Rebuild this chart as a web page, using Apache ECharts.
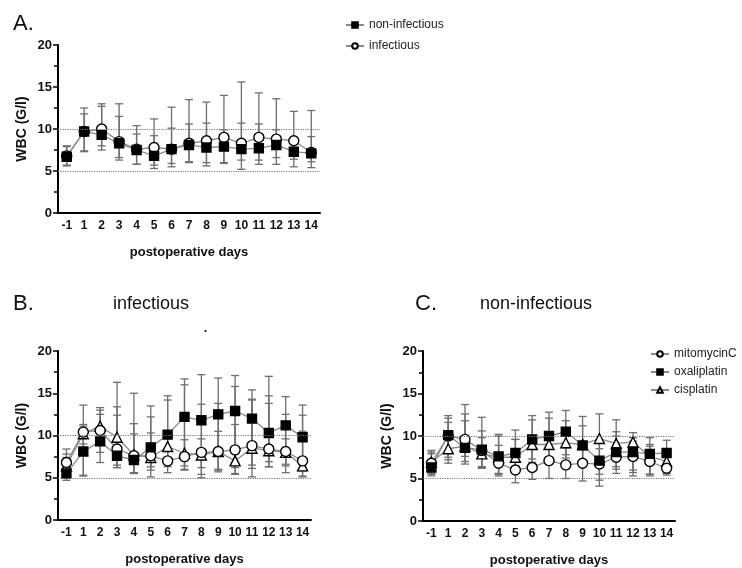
<!DOCTYPE html>
<html>
<head>
<meta charset="utf-8">
<script src="https://cdn.jsdelivr.net/npm/echarts@6/dist/echarts.min.js"></script>
<style>
  html, body { margin: 0; padding: 0; background: #fff; }
  #chart { width: 742px; height: 568px; }
</style>
</head>
<body>
<div id="chart"></div>
<script>
const days = ['-1', '1', '2', '3', '4', '5', '6', '7', '8', '9', '10', '11', '12', '13', '14']
const yTicks = [0, 5, 10, 15, 20]

// A. all patients
const aNonInf = [6.7, 9.7, 9.3, 8.3, 7.5, 6.8, 7.6, 8.1, 7.8, 7.9, 7.6, 7.7, 8.1, 7.3, 7.1]
const aNonInfHi = [7.9, 11.8, 12.7, 11.5, 9.4, 9.2, 10.1, 10.6, 10.7, 9.9, 10.7, 10.6, 9.9, 9.0, 9.1]
const aNonInfLo = [5.6, 7.3, 7.5, 6.3, 5.8, 5.3, 5.5, 6.0, 5.6, 5.9, 5.2, 5.8, 5.8, 5.5, 5.4]
const aInf = [6.8, 9.7, 10.0, 8.5, 7.6, 7.8, 7.6, 8.3, 8.6, 9.0, 8.3, 9.0, 8.8, 8.6, 7.2]
const aInfHi = [8.0, 12.5, 13.0, 13.0, 10.4, 11.2, 12.6, 13.5, 13.2, 14.0, 15.6, 14.3, 13.6, 12.1, 12.2]
const aInfLo = [5.7, 7.4, 8.0, 6.6, 5.8, 5.7, 5.9, 6.1, 6.0, 6.0, 6.3, 6.3, 6.6, 6.4, 6.1]

// B. infectious
const bMito = [6.8, 10.4, 10.6, 8.4, 7.6, 7.6, 7.0, 7.5, 8.0, 8.1, 8.3, 8.8, 8.4, 8.1, 7.0]
const bMitoHi = [8.4, 13.6, 13.3, 13.4, 11.4, 13.5, 14.2, 16.0, 13.7, 13.8, 15.8, 14.2, 17.0, 12.5, 12.4]
const bMitoLo = [5.0, 5.3, 8.0, 6.5, 5.6, 6.3, 6.3, 5.9, 5.0, 5.9, 6.2, 5.1, 6.3, 5.6, 5.1]
const bOxa = [5.5, 8.1, 9.3, 7.6, 7.1, 8.6, 10.1, 12.2, 11.8, 12.5, 12.9, 12.0, 10.3, 11.2, 9.8]
const bOxaHi = [7.4, 11.1, 12.5, 12.4, 10.2, 12.2, 14.7, 16.7, 17.2, 16.8, 17.1, 15.4, 14.7, 14.6, 13.6]
const bOxaLo = [4.7, 5.2, 6.8, 6.2, 5.5, 5.1, 5.6, 6.0, 5.4, 5.7, 5.4, 6.5, 6.3, 6.6, 5.8]
const bCis = [6.4, 10.2, 11.1, 9.8, 7.7, 7.4, 8.7, 7.9, 7.7, 8.1, 7.0, 8.5, 8.2, 8.0, 6.4]
const bCisHi = [7.8, 11.3, 13.0, 16.3, 15.0, 10.3, 10.2, 9.5, 9.6, 10.5, 11.3, 14.3, 13.8, 9.6, 10.5]
const bCisLo = [5.2, 9.0, 9.3, 6.2, 5.6, 5.9, 7.1, 6.4, 6.2, 6.0, 5.5, 6.1, 6.9, 6.4, 5.2]

// C. non-infectious
const cMito = [6.8, 10.0, 9.6, 8.3, 6.8, 6.0, 6.3, 7.1, 6.6, 6.8, 6.7, 7.5, 7.6, 7.0, 6.2]
const cMitoHi = [8.3, 12.1, 13.7, 12.2, 8.9, 9.6, 9.0, 9.5, 8.6, 9.0, 9.2, 10.5, 9.4, 8.8, 7.5]
const cMitoLo = [5.3, 7.5, 7.6, 6.3, 5.3, 4.5, 4.9, 5.0, 5.0, 4.7, 4.8, 5.6, 5.7, 5.3, 5.4]
const cOxa = [6.3, 10.1, 8.6, 8.4, 7.6, 8.0, 9.6, 10.0, 10.5, 8.9, 7.1, 8.1, 8.1, 7.9, 8.0]
const cOxaHi = [7.9, 12.4, 11.8, 10.6, 10.2, 10.7, 12.4, 12.8, 13.0, 11.2, 8.5, 10.0, 9.8, 9.8, 9.5]
const cOxaLo = [5.5, 7.2, 6.7, 6.2, 5.6, 6.5, 6.9, 7.2, 7.8, 6.4, 5.5, 6.1, 5.3, 5.5, 5.6]
const cCis = [6.9, 8.5, 8.8, 7.9, 7.5, 7.5, 9.0, 9.0, 9.2, 9.0, 9.7, 9.1, 9.3, 7.6, 7.0]
const cCisHi = [8.1, 11.6, 12.6, 9.8, 10.0, 9.6, 11.9, 12.1, 11.8, 12.3, 12.6, 11.9, 10.4, 9.0, 8.5]
const cCisLo = [5.6, 6.8, 7.0, 6.4, 5.5, 6.3, 7.3, 6.8, 7.4, 6.8, 4.1, 6.4, 6.0, 5.5, 5.8]

const font = 'Arial, "Liberation Sans", sans-serif'
const lineGray = '#8a8a8a'
const barGray = '#6f6f6f'

const chart = echarts.init(document.getElementById('chart'))

// error bar: vertical line with caps
const errBar = (gridIdx, lo, hi) => ({
  type: 'custom',
  xAxisIndex: gridIdx,
  yAxisIndex: gridIdx,
  silent: true,
  z: 1,
  data: days.map((d, i) => [i, lo[i], hi[i]]),
  encode: { x: 0, y: [1, 2] },
  renderItem: (params, api) => {
    const x = api.value(0)
    const pLo = api.coord([x, api.value(1)])
    const pHi = api.coord([x, api.value(2)])
    const w = 4
    const st = { stroke: barGray, lineWidth: 1.3 }
    return {
      type: 'group',
      children: [
        { type: 'line', shape: { x1: pHi[0], y1: pHi[1], x2: pLo[0], y2: pLo[1] }, style: st },
        { type: 'line', shape: { x1: pHi[0] - w, y1: pHi[1], x2: pHi[0] + w, y2: pHi[1] }, style: st },
        { type: 'line', shape: { x1: pLo[0] - w, y1: pLo[1], x2: pLo[0] + w, y2: pLo[1] }, style: st }
      ]
    }
  }
})

const markSymbols = {
  circle: { symbol: 'circle', color: '#fff' },
  square: { symbol: 'rect', color: '#000' },
  triangle: { symbol: 'triangle', color: '#fff' }
}

const lineSeries = (gridIdx, name, data, kind, size, withRef) => {
  const s = {
    type: 'line',
    name: name,
    xAxisIndex: gridIdx,
    yAxisIndex: gridIdx,
    data: data,
    symbol: markSymbols[kind].symbol,
    symbolSize: size,
    showAllSymbol: true,
    z: 3,
    lineStyle: { color: lineGray, width: 1.3 },
    itemStyle: { color: markSymbols[kind].color, borderColor: '#000', borderWidth: 1.4 }
  }
  if (withRef) {
    s.markLine = {
      silent: true,
      symbol: 'none',
      label: { show: false },
      lineStyle: { color: '#777', type: 'dotted', width: 1.2 },
      data: [{ yAxis: 5 }, { yAxis: 10 }]
    }
  }
  return s
}

const grids = [
  { left: 58, top: 45, width: 262, height: 168 },
  { left: 58, top: 351, width: 253, height: 169 },
  { left: 423, top: 351, width: 252, height: 170 }
]

const xAxes = grids.map((g, i) => ({
  type: 'category',
  gridIndex: i,
  data: days,
  name: 'postoperative days',
  nameLocation: 'middle',
  nameGap: 33,
  nameTextStyle: { fontFamily: font, fontWeight: 'bold', fontSize: 13, color: '#111' },
  axisLine: { lineStyle: { color: '#000', width: 2 } },
  axisTick: { alignWithLabel: true, length: 5, lineStyle: { color: '#000', width: 1.5 } },
  axisLabel: { interval: 0, margin: 7, fontFamily: font, fontWeight: 'bold', fontSize: 12, color: '#111' }
}))

const yAxes = grids.map((g, i) => ({
  type: 'value',
  gridIndex: i,
  min: yTicks[0],
  max: yTicks[yTicks.length - 1],
  interval: yTicks[1] - yTicks[0],
  name: 'WBC (G/l)',
  nameLocation: 'middle',
  nameGap: 29,
  nameTextStyle: { fontFamily: font, fontWeight: 'bold', fontSize: 14, color: '#111' },
  axisLine: { show: true, lineStyle: { color: '#000', width: 2 } },
  axisTick: { show: true, length: 5, lineStyle: { color: '#000', width: 1.5 } },
  minorTick: { show: true, splitNumber: 2, length: 4, lineStyle: { color: '#000', width: 1.5 } },
  splitLine: { show: false },
  axisLabel: { margin: 6, fontFamily: font, fontWeight: 'bold', fontSize: 13, color: '#111' }
}))

const titleStyle = { fontFamily: font, fontWeight: 'normal', fontSize: 22, color: '#111' }
const subStyle = { fontFamily: font, fontWeight: 'normal', fontSize: 18, color: '#111' }

chart.setOption({
  animation: false,
  title: [
    { text: 'A.', left: 8, top: 8, textStyle: titleStyle },
    { text: 'B.', left: 8, top: 288, textStyle: titleStyle },
    { text: 'infectious', left: 108, top: 290, textStyle: subStyle },
    { text: '.', left: 198, top: 313, textStyle: subStyle },
    { text: 'C.', left: 410, top: 288, textStyle: titleStyle },
    { text: 'non-infectious', left: 475, top: 290, textStyle: subStyle }
  ],
  legend: [
    {
      orient: 'vertical',
      left: 340,
      top: 14,
      itemGap: 9,
      itemWidth: 18,
      itemHeight: 7,
      textStyle: { fontFamily: font, fontSize: 12, color: '#222' },
      data: ['non-infectious', 'infectious']
    },
    {
      orient: 'vertical',
      left: 645,
      top: 343,
      itemGap: 6,
      itemWidth: 18,
      itemHeight: 7,
      textStyle: { fontFamily: font, fontSize: 12, color: '#222' },
      data: ['mitomycinC', 'oxaliplatin', 'cisplatin']
    }
  ],
  grid: grids,
  xAxis: xAxes,
  yAxis: yAxes,
  series: [
    errBar(0, aNonInfLo, aNonInfHi),
    errBar(0, aInfLo, aInfHi),
    lineSeries(0, 'infectious', aInf, 'circle', 10, true),
    lineSeries(0, 'non-infectious', aNonInf, 'square', 9, false),

    errBar(1, bOxaLo, bOxaHi),
    errBar(1, bMitoLo, bMitoHi),
    errBar(1, bCisLo, bCisHi),
    lineSeries(1, 'cisplatin', bCis, 'triangle', 10, true),
    lineSeries(1, 'mitomycinC', bMito, 'circle', 10, false),
    lineSeries(1, 'oxaliplatin', bOxa, 'square', 9, false),

    errBar(2, cOxaLo, cOxaHi),
    errBar(2, cMitoLo, cMitoHi),
    errBar(2, cCisLo, cCisHi),
    lineSeries(2, 'cisplatin', cCis, 'triangle', 10, true),
    lineSeries(2, 'mitomycinC', cMito, 'circle', 10, false),
    lineSeries(2, 'oxaliplatin', cOxa, 'square', 9, false)
  ]
})
</script>
</body>
</html>
